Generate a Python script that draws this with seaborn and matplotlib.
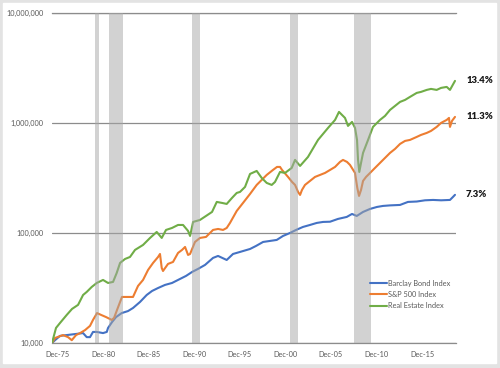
import pandas as pd
import matplotlib.pyplot as plt
from matplotlib.ticker import FuncFormatter, NullLocator
import seaborn as sns

# growth of 10,000 (decimal years)
bond_year = [1975.32, 1975.65, 1976.20, 1976.94, 1978.03, 1978.73, 1979.13, 1979.49, 1979.82, 1980.23,
             1980.92, 1981.33, 1981.47, 1981.91, 1982.35, 1982.97, 1983.66, 1984.21, 1984.98, 1985.71,
             1986.30, 1986.96, 1987.72, 1988.49, 1989.37, 1990.03, 1990.69, 1991.34, 1992.11, 1992.99,
             1993.54, 1994.49, 1995.18, 1995.95, 1997.05, 1997.71, 1998.48, 1999.24, 1999.98, 2000.67,
             2001.44, 2002.10, 2002.86, 2003.63, 2004.37, 2005.06, 2005.83, 2006.70, 2007.66, 2008.24,
             2008.76, 2009.45, 2010.22, 2010.98, 2011.64, 2012.41, 2013.51, 2014.38, 2015.34, 2016.25,
             2017.13, 2018.01, 2018.99, 2019.32, 2019.54]
bond_value = [10000, 10600, 11600, 11800, 12100, 12300, 11300, 11300, 12600, 12600,
              12300, 12600, 13700, 15500, 17200, 18700, 19500, 20800, 23600, 27300,
              29700, 31600, 33700, 35100, 38200, 40700, 44200, 47100, 51200, 59300,
              61800, 56800, 64400, 67200, 71500, 76200, 82800, 84600, 86400, 93900,
              100000, 106500, 113400, 118200, 123300, 125900, 126500, 134100, 139800, 148800,
              142700, 155200, 165300, 172300, 176000, 178000, 179700, 191400, 193000, 198000,
              199500, 198000, 199500, 212500, 222000]

sp_year = [1975.32, 1975.65, 1976.53, 1977.08, 1977.49, 1977.96, 1978.40, 1978.95, 1979.49, 1979.82,
           1980.26, 1980.70, 1981.25, 1981.88, 1982.13, 1982.46, 1982.79, 1983.00, 1983.66, 1984.21,
           1984.76, 1985.31, 1985.86, 1986.41, 1986.96, 1987.17, 1987.36, 1987.50, 1988.05, 1988.60,
           1989.15, 1989.59, 1989.92, 1990.25, 1990.47, 1991.01, 1991.56, 1992.22, 1992.99, 1993.54,
           1994.09, 1994.49, 1994.85, 1995.59, 1996.28, 1997.05, 1997.78, 1998.33, 1998.88, 1999.57,
           2000.01, 2000.34, 2000.56, 2001.22, 2001.66, 2001.99, 2002.32, 2002.54, 2002.75, 2003.08,
           2003.63, 2004.18, 2004.73, 2005.28, 2005.83, 2006.38, 2006.92, 2007.25, 2007.69, 2008.02,
           2008.57, 2008.82, 2009.01, 2009.23, 2009.45, 2009.78, 2010.22, 2010.76, 2011.31, 2011.86,
           2012.41, 2012.96, 2013.51, 2014.06, 2014.60, 2015.34, 2015.81, 2016.44, 2016.91, 2017.53,
           2018.01, 2018.63, 2018.88, 2018.99, 2019.21, 2019.54]
sp_value = [10000, 11100, 11800, 11300, 10600, 11800, 12300, 13100, 14300, 16200,
            18700, 18000, 17200, 16200, 16900, 20000, 23600, 26200, 26200, 26200,
            33000, 37400, 46100, 53400, 60500, 64400, 48100, 45100, 52300, 54500,
            65800, 70100, 74600, 63100, 64400, 82800, 90100, 92000, 106500, 108700,
            106500, 111000, 123300, 158500, 187400, 226200, 273100, 303300, 336700, 373800,
            398100, 398100, 373800, 322900, 290800, 273100, 235900, 221500, 246000, 273100,
            297000, 322900, 336700, 351100, 373800, 398100, 442100, 461000, 442100, 415100,
            351100, 256500, 217000, 246000, 297000, 322900, 351100, 389800, 432900, 480600,
            533700, 580300, 644300, 686100, 700500, 745900, 777800, 811100, 845800, 919600,
            1000000, 1064800, 1110300, 919600, 1042800, 1133800]

re_year = [1975.32, 1975.76, 1976.20, 1976.94, 1977.52, 1978.18, 1978.73, 1979.13, 1979.68, 1980.23,
           1980.92, 1981.47, 1982.02, 1982.42, 1982.79, 1983.33, 1983.88, 1984.43, 1985.31, 1986.08,
           1986.81, 1987.36, 1987.83, 1988.49, 1989.15, 1989.70, 1990.25, 1990.47, 1990.80, 1991.56,
           1992.22, 1992.88, 1993.40, 1993.98, 1994.49, 1995.07, 1995.59, 1995.95, 1996.50, 1997.05,
           1997.78, 1998.33, 1998.88, 1999.43, 1999.79, 2000.34, 2000.89, 2001.62, 2001.99, 2002.54,
           2003.41, 2004.51, 2005.61, 2006.38, 2006.81, 2007.47, 2007.80, 2008.24, 2008.57, 2008.79,
           2008.90, 2009.04, 2009.23, 2009.45, 2010.00, 2010.54, 2011.31, 2011.86, 2012.41, 2012.96,
           2013.51, 2014.06, 2014.60, 2015.34, 2015.81, 2016.44, 2016.91, 2017.53, 2018.01, 2018.63,
           2018.99, 2019.54]
re_value = [10000, 13700, 15200, 18000, 20400, 22200, 27300, 29100, 32300, 35100,
            37400, 35100, 35900, 43300, 53400, 58000, 60500, 70100, 77800, 90100,
            102100, 90100, 106500, 111000, 118200, 118200, 104300, 93900, 125900, 131300,
            142700, 155200, 191400, 187400, 183500, 208000, 231000, 235900, 261900, 343800,
            366100, 316200, 284800, 273100, 290800, 358500, 351100, 389800, 461000, 406500,
            490800, 700500, 900600, 1064800, 1258900, 1110300, 939100, 1021200, 900600, 700500,
            461000, 358500, 432900, 533700, 700500, 919600, 1064800, 1157800, 1312700, 1427300,
            1552100, 1618400, 1723300, 1873800, 1913500, 1995200, 2037600, 1995200, 2080500, 2124500,
            1995200, 2409000]

series_names = ['Barclay Bond Index', 'S&P 500 Index', 'Real Estate Index']
end_labels = ['7.3%', '11.3%', '13.4%']
colors = ['#4472C4', '#ED7D31', '#70AD47']

# shaded periods
shade_start = [1980.04, 1981.55, 1990.69, 2001.44, 2008.46]
shade_end = [1980.51, 1983.11, 1991.56, 2002.32, 2010.33]

tick_year = [1975.92, 1980.92, 1985.92, 1990.92, 1995.92, 2000.92, 2005.92, 2010.92, 2015.92]
tick_label = ['Dec-75', 'Dec-80', 'Dec-85', 'Dec-90', 'Dec-95', 'Dec-00', 'Dec-05', 'Dec-10', 'Dec-15']

years = [bond_year, sp_year, re_year]
values = [bond_value, sp_value, re_value]
df = pd.concat([pd.DataFrame({'year': y, 'value': v, 'series': n})
                for y, v, n in zip(years, values, series_names)], ignore_index=True)

sns.set_style('white')
plt.rcParams['font.family'] = ['Lato', 'DejaVu Sans']

fig = plt.figure(figsize=(5, 3.68), dpi=100, facecolor='#e3e3e3')
panel = plt.Rectangle((3 / 500, 5 / 368), 493 / 500, 360 / 368,
                      transform=fig.transFigure, color='white', zorder=-10)
fig.add_artist(panel)
ax = fig.add_axes([0.104, 0.068, 0.808, 0.897])
ax.set_facecolor('none')

sns.lineplot(data=df, x='year', y='value', hue='series', hue_order=series_names,
             palette=dict(zip(series_names, colors)), lw=1.5, estimator=None, sort=False, ax=ax)

for s, e in zip(shade_start, shade_end):
    ax.axvspan(s, e, color='#a6a6a6', alpha=0.5, lw=0, zorder=3)

ax.set_yscale('log')
ax.set_ylim(1e4, 1e7)
ax.set_xlim(1975.32, 2019.65)
ax.set_yticks([1e4, 1e5, 1e6, 1e7])
ax.yaxis.set_major_formatter(FuncFormatter(lambda v, p: f'{v:,.0f}'))
ax.yaxis.set_minor_locator(NullLocator())
ax.set_xticks(tick_year)
ax.set_xticklabels(tick_label)
ax.set_xlabel('')
ax.set_ylabel('')
ax.tick_params(length=0, labelsize=5.3, colors='#595959', pad=6)
ax.grid(axis='y', color='#8c8c8c', lw=0.9)
ax.set_axisbelow(True)
for side in ['left', 'right']:
    ax.spines[side].set_visible(False)
for side in ['top', 'bottom']:
    ax.spines[side].set_color('#8c8c8c')
    ax.spines[side].set_linewidth(0.9)

# end-of-line growth rates
for y, v, lab in zip(years, values, end_labels):
    ax.annotate(lab, xy=(y[-1], v[-1]), xytext=(8, 0), textcoords='offset points',
                ha='left', va='center', fontsize=6.8, fontweight='heavy', color='#1a1a1a',
                annotation_clip=False)

handles, labels = ax.get_legend_handles_labels()
ax.legend(handles, labels, loc='upper left', bbox_to_anchor=(0.787, 0.192), frameon=False,
          fontsize=5.3, handlelength=2.3, handletextpad=0.2, labelspacing=0.6,
          borderaxespad=0, borderpad=0, labelcolor='#595959')

fig.savefig('out.png', dpi=100, facecolor=fig.get_facecolor())
